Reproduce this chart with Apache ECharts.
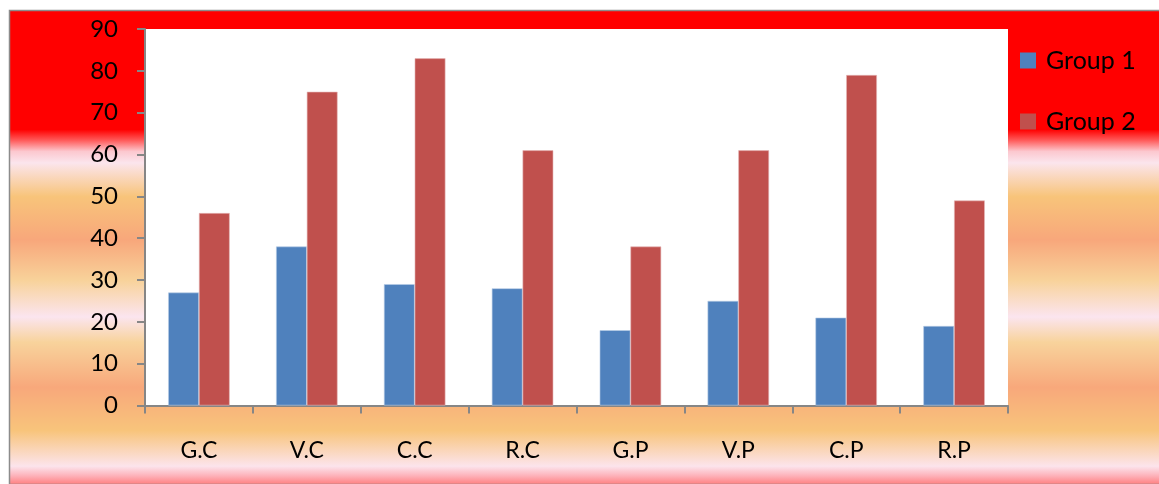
<!DOCTYPE html>
<html>
<head>
<meta charset="utf-8">
<title>Group 1 vs Group 2</title>
<script src="https://cdn.jsdelivr.net/npm/echarts@6/dist/echarts.min.js"></script>
<style>
  html, body { margin: 0; padding: 0; background: #ffffff; }
  #chart { width: 1159px; height: 484px; }
</style>
</head>
<body>
<div id="chart"></div>
<script>
// Category labels along the x axis
const categories = ['G.C', 'V.C', 'C.C', 'R.C', 'G.P', 'V.P', 'C.P', 'R.P'];
// Series values
const group1 = [27, 38, 29, 28, 18, 25, 21, 19];
const group2 = [46, 75, 83, 61, 38, 61, 79, 49];
// Value axis range
const yMin = 0;
const yMax = 90;
const yStep = 10;

const FONT = 'Lato';

const chart = echarts.init(document.getElementById('chart'), null, { renderer: 'canvas' });

// Banded backdrop: solid red on top, then soft orange / salmon / pink stripes
const backdrop = new echarts.graphic.LinearGradient(0, 0, 0, 1, [
  { offset: 0.000, color: '#FF0000' },
  { offset: 0.252, color: '#FF0000' },
  { offset: 0.275, color: '#FF5C5C' },
  { offset: 0.298, color: '#FCC8CF' },
  { offset: 0.322, color: '#FBE5ED' },
  { offset: 0.393, color: '#F8C47A' },
  { offset: 0.484, color: '#F8A77B' },
  { offset: 0.569, color: '#F8D29A' },
  { offset: 0.646, color: '#FBE5EF' },
  { offset: 0.699, color: '#F8D39C' },
  { offset: 0.794, color: '#F8A87B' },
  { offset: 0.885, color: '#F8C47B' },
  { offset: 0.960, color: '#FCE4EC' },
  { offset: 0.980, color: '#FDB2BA' },
  { offset: 1.000, color: '#FF7A7A' }
]);

chart.setOption({
  animation: false,
  textStyle: { fontFamily: FONT },
  graphic: {
    elements: [{
      type: 'rect',
      z: -10,
      silent: true,
      shape: { x: 9.5, y: 10.5, width: 1160, height: 474 },
      style: { fill: backdrop, stroke: '#8C8C8C', lineWidth: 1.5 }
    }]
  },
  legend: {
    orient: 'vertical',
    left: 1020,
    top: 48,
    padding: 0,
    itemWidth: 16,
    itemHeight: 16,
    itemGap: 36,
    icon: 'rect',
    itemStyle: { borderWidth: 0 },
    textStyle: {
      fontFamily: FONT,
      fontSize: 25,
      color: '#000000',
      lineHeight: 22,
      padding: [0, 0, 0, 5]
    },
    data: ['Group 1', 'Group 2']
  },
  grid: {
    left: 145,
    top: 29,
    right: 151,
    bottom: 78.5,
    show: true,
    backgroundColor: '#FFFFFF',
    borderWidth: 0
  },
  xAxis: {
    type: 'category',
    data: categories,
    axisLine: { show: true, lineStyle: { color: '#868686', width: 2 } },
    axisTick: { show: true, length: 8, lineStyle: { color: '#868686', width: 2 } },
    axisLabel: { margin: 34, fontSize: 23, color: '#000000', fontFamily: FONT },
    splitLine: { show: false }
  },
  yAxis: {
    type: 'value',
    min: yMin,
    max: yMax,
    interval: yStep,
    axisLine: { show: true, lineStyle: { color: '#868686', width: 2 } },
    axisTick: { show: true, length: 8, lineStyle: { color: '#868686', width: 2 } },
    axisLabel: { margin: 27, fontSize: 24, color: '#000000', fontFamily: FONT },
    splitLine: { show: false }
  },
  series: [
    {
      name: 'Group 1',
      type: 'bar',
      data: group1,
      barGap: '0%',
      barCategoryGap: '43%',
      itemStyle: { color: '#4F81BD', borderColor: '#B9CDE5', borderWidth: 0.6 }
    },
    {
      name: 'Group 2',
      type: 'bar',
      data: group2,
      barGap: '0%',
      barCategoryGap: '43%',
      itemStyle: { color: '#C0504D', borderColor: '#E6B9B8', borderWidth: 0.6 }
    }
  ]
});
</script>
</body>
</html>
